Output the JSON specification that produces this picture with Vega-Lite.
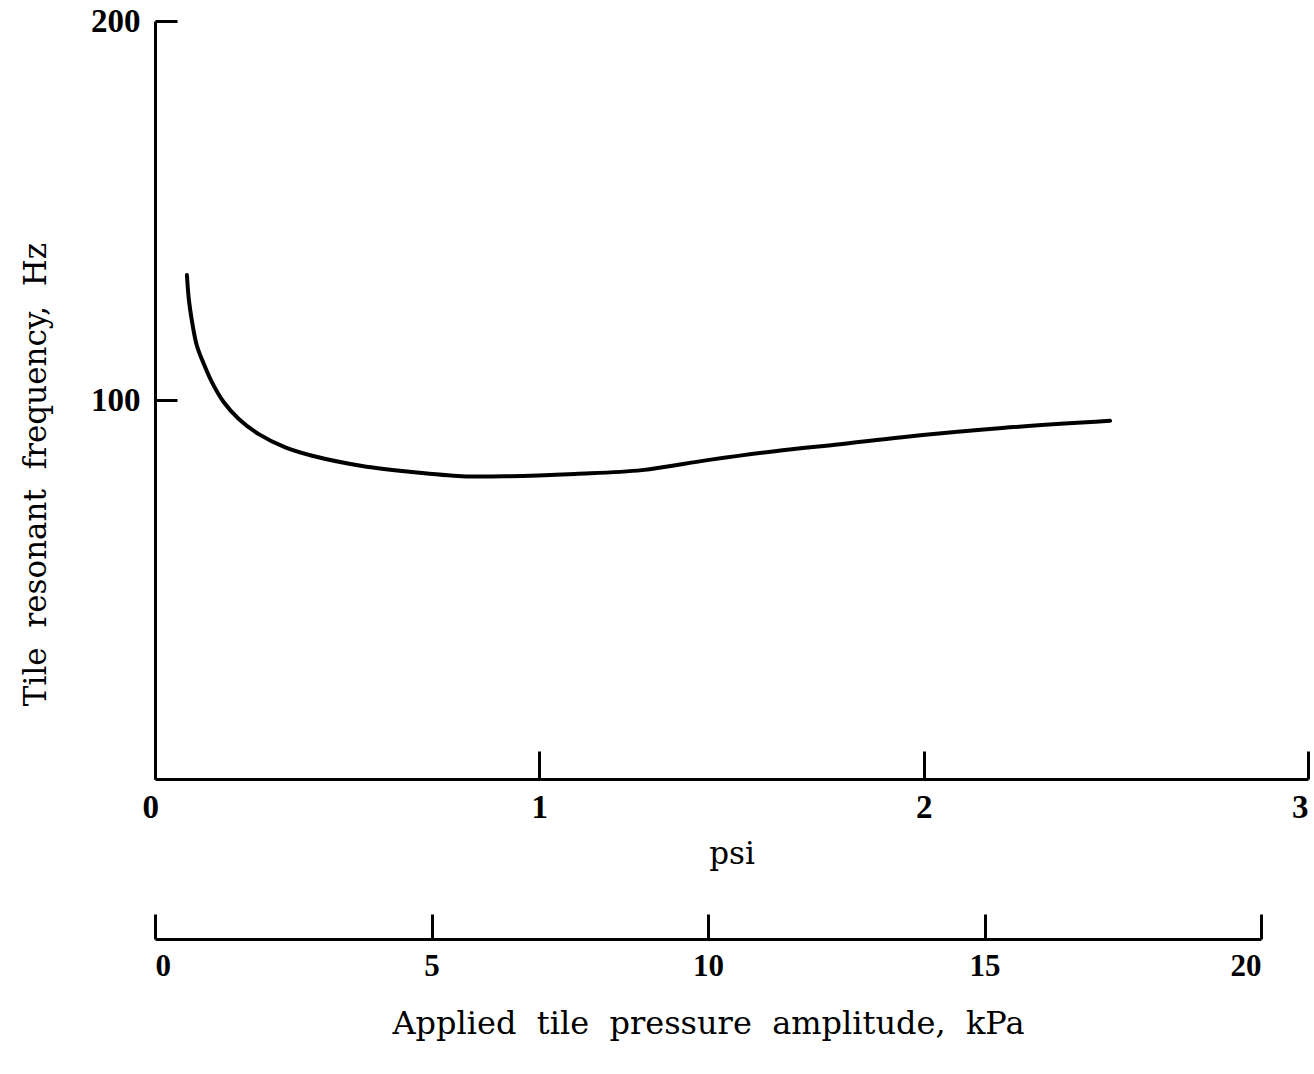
{
  "$schema": "https://vega.github.io/schema/vega-lite/v6.json",
  "background": "white",
  "padding": {"left": 20, "top": 5, "right": 4, "bottom": 24},
  "config": {
    "view": {"stroke": null},
    "axis": {
      "domainColor": "black", "domainWidth": 3, "tickColor": "black", "tickWidth": 3,
      "labelFont": "Liberation Serif", "labelFontWeight": "bold", "labelFontSize": 33, "labelColor": "black",
      "titleFont": "DejaVu Serif", "titleFontWeight": "normal", "titleFontSize": 31, "titleColor": "black",
      "grid": false
    }
  },
  "spacing": 10,
  "vconcat": [
    {
      "width": 1153, "height": 758,
      "data": {"values": [
        {"psi": 0.083, "hz": 133.0},
        {"psi": 0.088, "hz": 126.6},
        {"psi": 0.096, "hz": 120.9},
        {"psi": 0.109, "hz": 114.3},
        {"psi": 0.127, "hz": 109.5},
        {"psi": 0.148, "hz": 104.7},
        {"psi": 0.179, "hz": 99.4},
        {"psi": 0.218, "hz": 95.0},
        {"psi": 0.270, "hz": 91.0},
        {"psi": 0.339, "hz": 87.5},
        {"psi": 0.409, "hz": 85.3},
        {"psi": 0.539, "hz": 82.6},
        {"psi": 0.669, "hz": 81.0},
        {"psi": 0.799, "hz": 79.9},
        {"psi": 0.921, "hz": 79.9},
        {"psi": 1.093, "hz": 80.5},
        {"psi": 1.267, "hz": 81.5},
        {"psi": 1.442, "hz": 84.2},
        {"psi": 1.613, "hz": 86.5},
        {"psi": 1.788, "hz": 88.4},
        {"psi": 1.944, "hz": 90.2},
        {"psi": 2.204, "hz": 92.6},
        {"psi": 2.485, "hz": 94.5}
      ]},
      "mark": {"type": "line", "color": "black", "strokeWidth": 4, "interpolate": "catmull-rom", "strokeCap": "round"},
      "encoding": {
        "x": {"field": "psi", "type": "quantitative", "scale": {"domain": [0, 3], "nice": false},
          "axis": {"values": [0, 1, 2, 3], "tickSize": -28, "labelPadding": 40, "title": "psi", "titlePadding": 15,
            "labelOffset": {"condition": {"test": "datum.value === 0", "value": -13}, "value": 0}}},
        "y": {"field": "hz", "type": "quantitative", "scale": {"domain": [0, 200], "nice": false},
          "axis": {"values": [100, 200], "tickSize": -22, "labelPadding": 37, "title": "Tile\u00a0\u00a0resonant\u00a0\u00a0frequency,\u00a0\u00a0Hz", "titlePadding": 38, "titleY": 453}}
      }
    },
    {
      "width": 1106, "height": 60,
      "data": {"values": [{"kpa": 0}, {"kpa": 5}, {"kpa": 10}, {"kpa": 15}, {"kpa": 20}]},
      "mark": {"type": "point", "opacity": 0},
      "encoding": {
        "x": {"field": "kpa", "type": "quantitative", "scale": {"domain": [0, 20], "nice": false},
          "axis": {"values": [0, 5, 10, 15, 20], "tickSize": -25, "labelFontSize": 31, "labelPadding": 37,
            "title": "Applied\u00a0\u00a0tile\u00a0\u00a0pressure\u00a0\u00a0amplitude,\u00a0\u00a0kPa", "titleFontSize": 32, "titlePadding": 27}}
      }
    }
  ]
}
